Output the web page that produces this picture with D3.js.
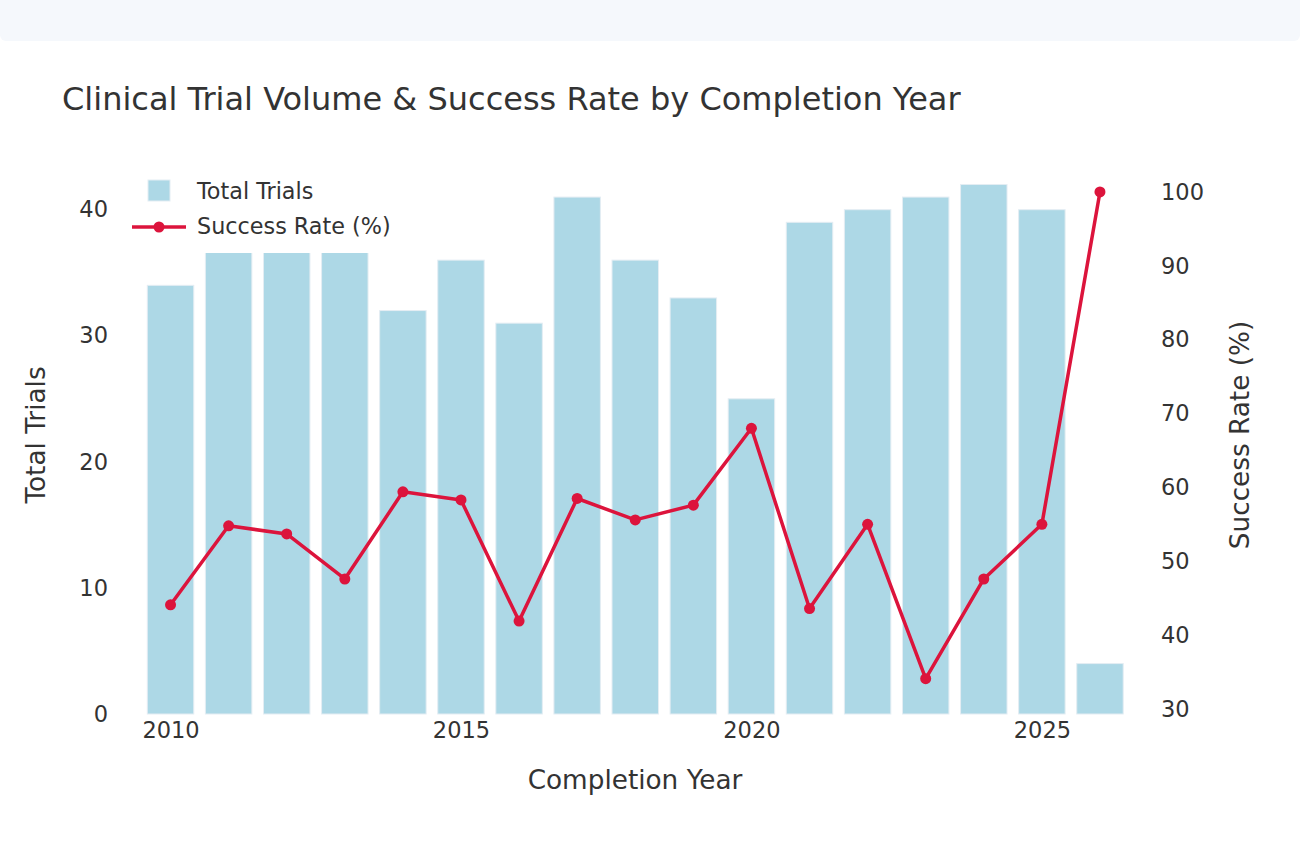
<!DOCTYPE html>
<html>
<head>
<meta charset="utf-8">
<script src="https://cdn.jsdelivr.net/npm/d3@7"></script>
<style>
  body { margin: 0; background: #ffffff; }
  svg text { font-family: "DejaVu Sans", sans-serif; fill: #333333; }
</style>
</head>
<body>
<svg id="chart" width="1300" height="865"></svg>
<script>
// data
const years = [2010, 2011, 2012, 2013, 2014, 2015, 2016, 2017, 2018, 2019, 2020, 2021, 2022, 2023, 2024, 2025, 2026];
const totalTrials = [34, 42, 41, 42, 32, 36, 31, 41, 36, 33, 25, 39, 40, 41, 42, 40, 4];
const successRate = [44.1, 54.8, 53.7, 47.6, 59.4, 58.3, 41.9, 58.5, 55.6, 57.6, 68.0, 43.6, 55.0, 34.1, 47.6, 55.0, 100];
const xTicks = [2010, 2015, 2020, 2025];
const leftTicks = [0, 10, 20, 30, 40];
const rightTicks = [30, 40, 50, 60, 70, 80, 90, 100];

const svg = d3.select("#chart");

// header strip at the top of the page
svg.append("rect")
    .attr("x", 0).attr("y", -10)
    .attr("width", 1300).attr("height", 51)
    .attr("rx", 6)
    .attr("fill", "#f5f8fc");

// scales
const x = d3.scaleLinear().domain([2008.76, 2027.24]).range([98.5, 1172]);
const y = d3.scaleLinear().domain([0, 44.1]).range([714, 158]);
const y2 = d3.scaleLinear().domain([29.32, 104.6]).range([714, 158]);
const barW = x(2010.4) - x(2009.6);

// title
svg.append("text")
    .text("Clinical Trial Volume & Success Rate by Completion Year")
    .attr("x", 62).attr("y", 110)
    .style("font-size", "32px");

// bars
const rows = years.map((yr, i) => ({year: yr, total: totalTrials[i], rate: successRate[i]}));
svg.append("g").selectAll("rect")
    .data(rows)
    .enter().append("rect")
    .attr("x", d => x(d.year) - barW / 2)
    .attr("y", d => y(d.total))
    .attr("width", barW)
    .attr("height", d => y(0) - y(d.total))
    .attr("fill", "#add8e6")
    .attr("stroke", "#e4edf3")
    .attr("stroke-width", 1);

// success rate line
const line = d3.line().x(d => x(d.year)).y(d => y2(d.rate));
svg.append("path")
    .datum(rows)
    .attr("d", line)
    .attr("fill", "none")
    .attr("stroke", "#dc143c")
    .attr("stroke-width", 3.5)
    .attr("stroke-linejoin", "round");
svg.append("g").selectAll("circle")
    .data(rows)
    .enter().append("circle")
    .attr("cx", d => x(d.year))
    .attr("cy", d => y2(d.rate))
    .attr("r", 5.5)
    .attr("fill", "#dc143c");

// axes (no lines or tick marks, labels only)
const xAxis = d3.axisBottom(x).tickValues(xTicks).tickFormat(d3.format("d")).tickSize(0).tickPadding(8);
const gx = svg.append("g").attr("transform", "translate(0,714)").call(xAxis);
const yAxis = d3.axisLeft(y).tickValues(leftTicks).tickSize(0).tickPadding(0);
const gy = svg.append("g").attr("transform", "translate(108,0)").call(yAxis);
const y2Axis = d3.axisRight(y2).tickValues(rightTicks).tickSize(0).tickPadding(0);
const gy2 = svg.append("g").attr("transform", "translate(1161,0)").call(y2Axis);
[gx, gy, gy2].forEach(g => {
    g.select(".domain").remove();
    g.selectAll("text").style("font-size", "22.5px").attr("fill", "#333333")
        .style("font-family", "DejaVu Sans");
});

// axis labels
svg.append("text")
    .text("Completion Year")
    .attr("x", 635).attr("y", 789)
    .attr("text-anchor", "middle")
    .style("font-size", "26.3px");
svg.append("text")
    .text("Total Trials")
    .attr("transform", "translate(45,435) rotate(-90)")
    .attr("text-anchor", "middle")
    .style("font-size", "26.3px");
svg.append("text")
    .text("Success Rate (%)")
    .attr("transform", "translate(1249,435) rotate(-90)")
    .attr("text-anchor", "middle")
    .style("font-size", "26.3px");

// legend
const lg = svg.append("g");
lg.append("rect")
    .attr("x", 124).attr("y", 165)
    .attr("width", 290).attr("height", 88)
    .attr("rx", 4)
    .attr("fill", "#ffffff");
lg.append("rect")
    .attr("x", 148).attr("y", 180)
    .attr("width", 22).attr("height", 21)
    .attr("fill", "#add8e6")
    .attr("stroke", "#e4edf3");
lg.append("text")
    .text("Total Trials")
    .attr("x", 197).attr("y", 191)
    .attr("dominant-baseline", "central")
    .style("font-size", "22.3px");
lg.append("line")
    .attr("x1", 132).attr("x2", 186)
    .attr("y1", 227).attr("y2", 227)
    .attr("stroke", "#dc143c").attr("stroke-width", 3.5);
lg.append("circle")
    .attr("cx", 159).attr("cy", 227).attr("r", 5.5)
    .attr("fill", "#dc143c");
lg.append("text")
    .text("Success Rate (%)")
    .attr("x", 197).attr("y", 226)
    .attr("dominant-baseline", "central")
    .style("font-size", "22.3px");
</script>
</body>
</html>
